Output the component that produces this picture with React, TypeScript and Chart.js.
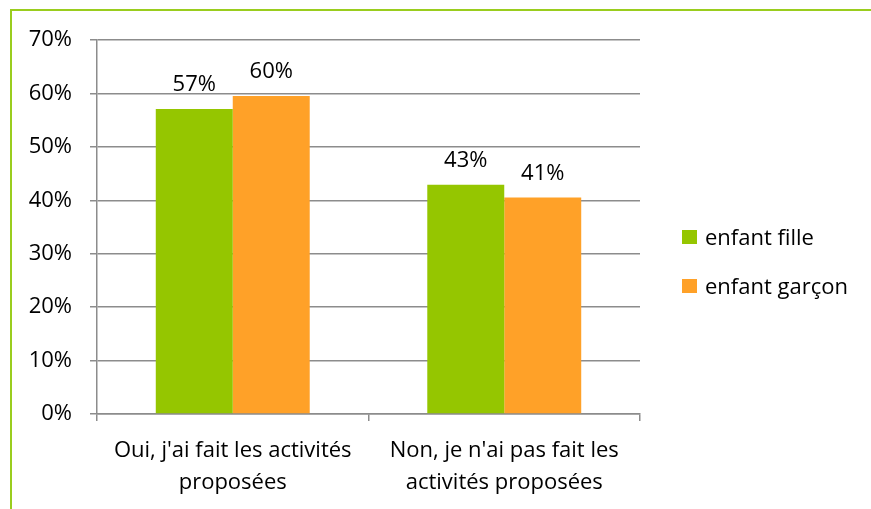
import React, { useEffect, useRef } from "react";
import { Chart, registerables } from "chart.js";

Chart.register(...registerables);

const categories: string[][] = [
  ["Oui, j'ai fait les activités", "proposées"],
  ["Non, je n'ai pas fait les", "activités proposées"],
];
const seriesNames = ["enfant fille", "enfant garçon"];
const filleValues = [57.1, 42.9];
const garconValues = [59.5, 40.5];
const filleLabels = ["57%", "43%"];
const garconLabels = ["60%", "41%"];
const yTicks = [0, 10, 20, 30, 40, 50, 60, 70];

const FONT = "'Open Sans'";
const FS = 22;
const GREEN = "#95C600";
const ORANGE = "#FFA128";
const GRID = "#8C8C8C";

const valueLabelPlugin = {
  id: "valueLabels",
  afterDatasetsDraw(chart: any) {
    const ctx = chart.ctx;
    const texts = [filleLabels, garconLabels];
    ctx.save();
    ctx.font = `${FS}px ${FONT}`;
    ctx.fillStyle = "#000";
    ctx.textAlign = "center";
    ctx.textBaseline = "alphabetic";
    chart.data.datasets.forEach((_ds: any, di: number) => {
      const meta = chart.getDatasetMeta(di);
      meta.data.forEach((bar: any, i: number) => {
        ctx.fillText(texts[di][i], bar.x, bar.y - 18);
      });
    });
    ctx.restore();
  },
};

const legendPlugin = {
  id: "sideLegend",
  afterDraw(chart: any) {
    const ctx = chart.ctx;
    ctx.save();
    ctx.font = `${FS}px ${FONT}`;
    ctx.textBaseline = "alphabetic";
    ctx.textAlign = "left";
    chart.data.datasets.forEach((ds: any, i: number) => {
      const top = 230 + i * 49;
      ctx.fillStyle = ds.backgroundColor;
      ctx.fillRect(682, top, 15, 14);
      ctx.fillStyle = "#000";
      ctx.fillText(ds.label, 705, top + 15);
    });
    ctx.restore();
  },
};

export default function App() {
  const ref = useRef<HTMLCanvasElement>(null);
  useEffect(() => {
    document.body.style.margin = "0";
    const chart = new Chart(ref.current!, {
      type: "bar",
      data: {
        labels: categories as any,
        datasets: [
          { label: seriesNames[0], data: filleValues, backgroundColor: GREEN, barPercentage: 1, categoryPercentage: 0.567 },
          { label: seriesNames[1], data: garconValues, backgroundColor: ORANGE, barPercentage: 1, categoryPercentage: 0.567 },
        ],
      },
      options: {
        animation: false,
        responsive: false,
        events: [],
        layout: { padding: { left: 20, right: 231, top: 40, bottom: 0 } },
        plugins: { legend: { display: false }, tooltip: { enabled: false } },
        scales: {
          x: {
            offset: true,
            grid: { display: true, offset: true, drawOnChartArea: false, color: GRID, tickLength: 7, lineWidth: 1.5 },
            border: { display: true, color: GRID, width: 1.5 },
            ticks: { color: "#000", font: { family: FONT, size: FS, lineHeight: 1.46 }, padding: 14, maxRotation: 0, autoSkip: false },
            afterFit(scale: any) { scale.height = 95; },
          },
          y: {
            min: 0,
            max: 70,
            afterBuildTicks(scale: any) { scale.ticks = yTicks.map((v) => ({ value: v })); },
            grid: { color: GRID, tickLength: 7, lineWidth: 1.5 },
            border: { display: true, color: GRID, width: 1.5 },
            ticks: { color: "#000", font: { family: FONT, size: FS }, padding: 18, callback: (v: any) => v + "%" },
            afterFit(scale: any) { scale.width = 77; },
          },
        },
      },
      plugins: [valueLabelPlugin, legendPlugin],
    });
    return () => chart.destroy();
  }, []);
  return (
    <div style={{ position: "relative", width: 871, height: 509, background: "#fff" }}>
      <div style={{ position: "absolute", left: 10, top: 9, right: 0, bottom: 0, borderLeft: "2px solid #9ACD1E", borderTop: "2px solid #9ACD1E" }} />
      <canvas ref={ref} width={871} height={509} style={{ position: "absolute", left: 0, top: 0 }} />
    </div>
  );
}
